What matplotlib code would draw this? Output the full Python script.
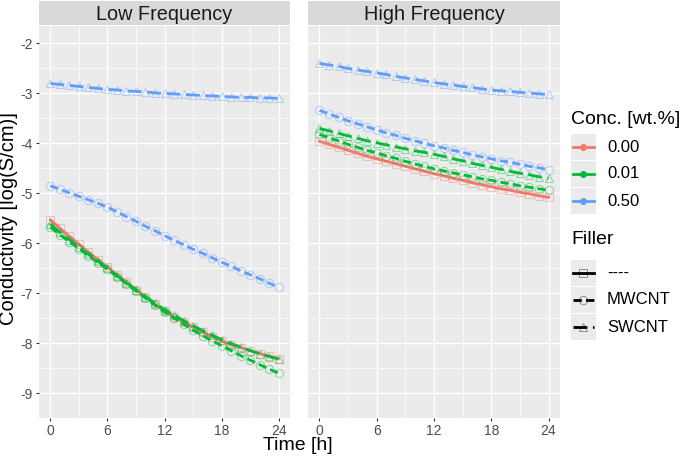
import numpy as np
import matplotlib.pyplot as plt
from matplotlib.lines import Line2D
from matplotlib.patches import Rectangle

plt.rcParams['font.family'] = ['Liberation Sans', 'DejaVu Sans']

# Datos (tiempo en horas, conductividad en log(S/cm))
tiempo = list(range(0, 25))

# Baja frecuencia
lf_000 = [-5.53, -5.70, -5.86, -6.02, -6.18, -6.33, -6.48, -6.63, -6.78, -6.93, -7.07, -7.22, -7.36,
          -7.47, -7.58, -7.68, -7.78, -7.87, -7.96, -8.03, -8.09, -8.15, -8.21, -8.26, -8.31]
lf_001_swcnt = [-5.62, -5.78, -5.93, -6.08, -6.22, -6.36, -6.50, -6.65, -6.79, -6.93, -7.07, -7.20, -7.33,
                -7.44, -7.55, -7.65, -7.75, -7.84, -7.93, -8.01, -8.08, -8.15, -8.21, -8.27, -8.32]
lf_001_mwcnt = [-5.68, -5.83, -5.97, -6.11, -6.25, -6.39, -6.52, -6.67, -6.81, -6.96, -7.10, -7.24, -7.38,
                -7.50, -7.62, -7.74, -7.85, -7.95, -8.05, -8.15, -8.25, -8.34, -8.43, -8.52, -8.60]
lf_050_swcnt = [-2.80, -2.82, -2.84, -2.86, -2.88, -2.90, -2.92, -2.93, -2.95, -2.96, -2.97, -2.99, -3.00,
                -3.01, -3.02, -3.03, -3.04, -3.05, -3.06, -3.07, -3.08, -3.08, -3.09, -3.09, -3.10]
lf_050_mwcnt = [-4.85, -4.92, -4.99, -5.06, -5.13, -5.20, -5.28, -5.37, -5.47, -5.56, -5.66, -5.75, -5.85,
                -5.94, -6.03, -6.12, -6.20, -6.29, -6.38, -6.46, -6.55, -6.63, -6.71, -6.80, -6.88]

# Alta frecuencia
hf_000 = [-3.96, -4.02, -4.08, -4.14, -4.20, -4.26, -4.31, -4.36, -4.41, -4.46, -4.51, -4.56, -4.61,
          -4.65, -4.70, -4.74, -4.79, -4.83, -4.87, -4.91, -4.94, -4.98, -5.01, -5.05, -5.08]
hf_001_swcnt = [-3.70, -3.75, -3.80, -3.85, -3.90, -3.95, -3.99, -4.03, -4.07, -4.11, -4.15, -4.18, -4.22,
                -4.26, -4.31, -4.35, -4.40, -4.44, -4.48, -4.52, -4.56, -4.60, -4.63, -4.67, -4.70]
hf_001_mwcnt = [-3.82, -3.89, -3.95, -4.02, -4.08, -4.14, -4.19, -4.25, -4.30, -4.36, -4.41, -4.46, -4.51,
                -4.55, -4.59, -4.63, -4.67, -4.71, -4.74, -4.78, -4.81, -4.85, -4.88, -4.91, -4.94]
hf_050_swcnt = [-2.40, -2.43, -2.46, -2.50, -2.53, -2.56, -2.59, -2.62, -2.66, -2.69, -2.72, -2.75, -2.78,
                -2.81, -2.83, -2.86, -2.88, -2.91, -2.93, -2.95, -2.96, -2.98, -2.99, -3.01, -3.02]
hf_050_mwcnt = [-3.34, -3.41, -3.48, -3.55, -3.61, -3.67, -3.73, -3.79, -3.84, -3.90, -3.95, -4.00, -4.05,
                -4.09, -4.14, -4.18, -4.23, -4.27, -4.31, -4.35, -4.38, -4.42, -4.46, -4.49, -4.53]

paneles = ["Low Frequency", "High Frequency"]
conc_labels = ["0.00", "0.01", "0.50"]
filler_labels = ["----", "MWCNT", "SWCNT"]

colores = {"0.00": "#F8766D", "0.01": "#00BA38", "0.50": "#619CFF"}
estilos = {"----": "-", "MWCNT": (0, (3, 1.5)), "SWCNT": (0, (5, 2))}
marcadores = {"----": "s", "MWCNT": "o", "SWCNT": "^"}

series = {
    "Low Frequency": [("0.00", "----", lf_000), ("0.01", "MWCNT", lf_001_mwcnt), ("0.01", "SWCNT", lf_001_swcnt),
                      ("0.50", "MWCNT", lf_050_mwcnt), ("0.50", "SWCNT", lf_050_swcnt)],
    "High Frequency": [("0.00", "----", hf_000), ("0.01", "MWCNT", hf_001_mwcnt), ("0.01", "SWCNT", hf_001_swcnt),
                       ("0.50", "MWCNT", hf_050_mwcnt), ("0.50", "SWCNT", hf_050_swcnt)],
}

W, H = 685, 458
fig = plt.figure(figsize=(W / 100, H / 100), dpi=100)


def caja(x0, y0, x1, y1):
    """Convierte pixeles (arriba-izquierda) en coordenadas de figura"""
    return [x0 / W, 1 - y1 / H, (x1 - x0) / W, (y1 - y0) / H]


posiciones = [(39, 290), (308, 560)]
for i, panel in enumerate(paneles):
    x0, x1 = posiciones[i]
    ax = fig.add_axes(caja(x0, 26, x1, 418))
    ax.set_facecolor("#EBEBEB")
    for s in ax.spines.values():
        s.set_visible(False)
    ax.set_xlim(-1.2, 25.2)
    ax.set_ylim(-9.33, -1.65)
    ax.set_xticks([0, 6, 12, 18, 24])
    ax.set_xticks([3, 9, 15, 21], minor=True)
    ax.set_yticks(range(-9, -1))
    ax.set_yticks(np.arange(-9.5, -1.5, 1.0), minor=True)
    ax.grid(True, which="major", color="white", lw=1.0)
    ax.grid(True, which="minor", color="white", lw=0.5)
    ax.set_axisbelow(True)
    ax.tick_params(which="major", length=2.5, color="#333333", labelsize=10, labelcolor="#4D4D4D", pad=2)
    ax.tick_params(which="minor", length=0)
    if i == 0:
        ax.set_yticklabels([str(v) for v in range(-9, -1)])
    else:
        ax.tick_params(axis="y", which="both", left=False, labelleft=False)

    for conc, filler, vals in series[panel]:
        c = colores[conc]
        ax.plot(tiempo, vals, ls="none", marker=marcadores[filler], ms=6, mfc="none",
                mec=c, mew=0.8, alpha=0.4)
        ax.plot(tiempo, vals, color=c, ls=estilos[filler], lw=2.0)

    # Franja del panel
    st = fig.add_axes(caja(x0, 1, x1, 25))
    st.set_facecolor("#D9D9D9")
    st.set_xticks([])
    st.set_yticks([])
    for s in st.spines.values():
        s.set_visible(False)
    st.text(0.5, 0.45, panel, ha="center", va="center", fontsize=14.3, color="#1A1A1A", transform=st.transAxes)

fig.text(298 / W, 1 - 446 / H, "Time [h]", ha="center", va="center", fontsize=14)
fig.text(9 / W, 1 - 219 / H, "Conductivity [log(S/cm)]", ha="center", va="center", fontsize=14.5, rotation=90)

# Leyenda manual al estilo ggplot
lg = fig.add_axes([0, 0, 1, 1])
lg.set_xlim(0, W)
lg.set_ylim(H, 0)
lg.axis("off")

lg.text(571, 119, "Conc. [wt.%]", fontsize=14, va="center", ha="left")
for k, lab in enumerate(conc_labels):
    y = 147 + k * 27
    lg.add_patch(Rectangle((571, y - 13), 25, 26, color="#EBEBEB", lw=0))
    lg.add_line(Line2D([573, 594], [y, y], color=colores[lab], lw=2.0))
    lg.plot([583.5], [y], marker="o", ms=4, color=colores[lab])
    lg.text(607, y, lab, fontsize=12, va="center", ha="left")

lg.text(571, 240, "Filler", fontsize=14, va="center", ha="left")
for k, lab in enumerate(filler_labels):
    y = 273 + k * 27
    lg.add_patch(Rectangle((571, y - 13), 25, 26, color="#EBEBEB", lw=0))
    lg.add_line(Line2D([573, 594], [y, y], color="black", ls=estilos[lab], lw=2.0))
    lg.plot([583.5], [y], marker=marcadores[lab], ms=6, mfc="none", mec="black", mew=0.7, alpha=0.4)
    lg.text(607, y, lab, fontsize=12, va="center", ha="left")

plt.savefig("out.png", dpi=100)
